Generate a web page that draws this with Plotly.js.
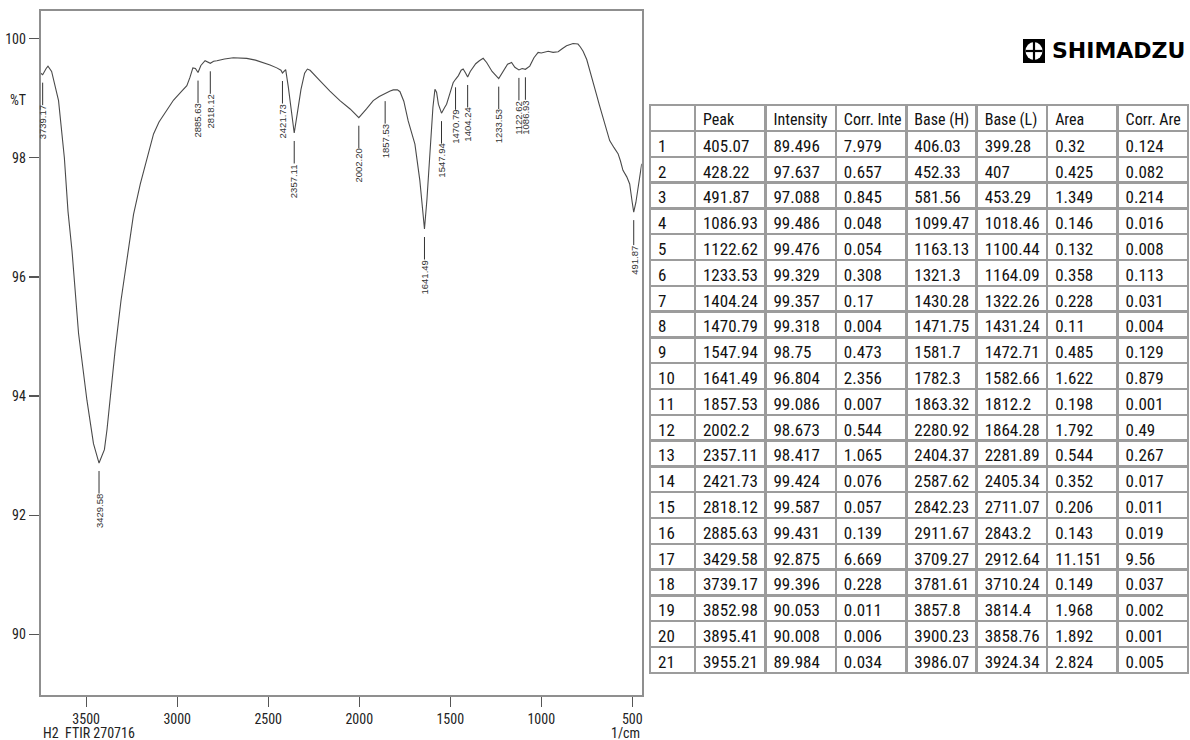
<!DOCTYPE html>
<html>
<head>
<meta charset="utf-8">
<script src="https://cdn.plot.ly/plotly-3.0.1.min.js"></script>
<style>
  html, body { margin: 0; padding: 0; background: #ffffff; }
  #chart { width: 1190px; height: 740px; }
</style>
</head>
<body>
<div id="chart"></div>
<script>
// ---- Spectrum ----
const wavenumber = [
  3750, 3739.17, 3720, 3710, 3690, 3670, 3652, 3620, 3600, 3578, 3542, 3496, 3460, 3429.58,
  3400, 3386, 3341, 3309, 3271, 3240, 3203, 3160, 3130, 3100, 3057, 3020, 2975, 2947, 2930,
  2914, 2900, 2885.63, 2870, 2847, 2818.12, 2800, 2782, 2740, 2692, 2650, 2618, 2570, 2527,
  2490, 2453, 2430, 2421.73, 2410, 2404, 2390, 2375, 2357.11, 2340, 2320, 2300, 2285, 2270,
  2240, 2215, 2161, 2106, 2050, 2002.2, 1960, 1923, 1890, 1857.53, 1830, 1813, 1790, 1776,
  1755, 1731, 1694, 1667, 1655, 1641.49, 1628, 1612, 1595, 1584, 1575, 1565, 1547.94, 1530,
  1520, 1500, 1484, 1470.79, 1455, 1440, 1429, 1415, 1404.24, 1390, 1360, 1340, 1319, 1300,
  1270, 1233.53, 1210, 1185, 1163, 1145, 1122.62, 1105, 1086.93, 1063, 1040, 1017, 1000, 985,
  962, 935, 907, 885, 861, 825, 798, 785, 770, 750, 734, 715, 697, 680, 661, 640, 624, 600,
  578, 565, 551, 530, 514, 500, 491.87, 480, 468, 448
];
const transmittance = [
  99.42, 99.396, 99.50, 99.54, 99.45, 99.20, 98.96, 98.00, 97.10, 96.44, 95.05, 93.93, 93.20, 92.875,
  93.10, 93.43, 94.77, 95.60, 96.44, 97.05, 97.56, 98.05, 98.40, 98.60, 98.79, 98.97, 99.12, 99.21, 99.35,
  99.51, 99.50, 99.431, 99.55, 99.63, 99.587, 99.62, 99.63, 99.66, 99.68, 99.68, 99.67, 99.64, 99.60,
  99.56, 99.51, 99.47, 99.424, 99.47, 99.48, 99.20, 98.80, 98.417, 98.75, 99.15, 99.42, 99.49, 99.47,
  99.38, 99.29, 99.12, 98.96, 98.82, 98.673, 98.82, 98.96, 99.03, 99.086, 99.12, 99.14, 99.14, 99.11,
  98.95, 98.62, 98.23, 97.62, 97.20, 96.804, 97.30, 98.12, 98.85, 99.15, 99.10, 98.90, 98.75, 98.85,
  98.90, 99.10, 99.26, 99.318, 99.38, 99.47, 99.49, 99.42, 99.357, 99.45, 99.58, 99.63, 99.67, 99.60,
  99.45, 99.329, 99.45, 99.57, 99.60, 99.52, 99.476, 99.50, 99.486, 99.54, 99.68, 99.77, 99.76, 99.77,
  99.79, 99.77, 99.78, 99.83, 99.88, 99.92, 99.91, 99.86, 99.79, 99.65, 99.46, 99.27, 99.07, 98.88, 98.68, 98.45, 98.29, 98.17,
  98.07, 97.95, 97.79, 97.68, 97.56, 97.25, 97.088, 97.25, 97.51, 97.90
];

// ---- Peak table ----
const peakNo    = [1,2,3,4,5,6,7,8,9,10,11,12,13,14,15,16,17,18,19,20,21];
const peakPos   = [405.07,428.22,491.87,1086.93,1122.62,1233.53,1404.24,1470.79,1547.94,1641.49,1857.53,2002.2,2357.11,2421.73,2818.12,2885.63,3429.58,3739.17,3852.98,3895.41,3955.21];
const intensity = [89.496,97.637,97.088,99.486,99.476,99.329,99.357,99.318,98.75,96.804,99.086,98.673,98.417,99.424,99.587,99.431,92.875,99.396,90.053,90.008,89.984];
const corrInt   = [7.979,0.657,0.845,0.048,0.054,0.308,0.17,0.004,0.473,2.356,0.007,0.544,1.065,0.076,0.057,0.139,6.669,0.228,0.011,0.006,0.034];
const baseH     = [406.03,452.33,581.56,1099.47,1163.13,1321.3,1430.28,1471.75,1581.7,1782.3,1863.32,2280.92,2404.37,2587.62,2842.23,2911.67,3709.27,3781.61,3857.8,3900.23,3986.07];
const baseL     = [399.28,407,453.29,1018.46,1100.44,1164.09,1322.26,1431.24,1472.71,1582.66,1812.2,1864.28,2281.89,2405.34,2711.07,2843.2,2912.64,3710.24,3814.4,3858.76,3924.34];
const area      = [0.32,0.425,1.349,0.146,0.132,0.358,0.228,0.11,0.485,1.622,0.198,1.792,0.544,0.352,0.206,0.143,11.151,0.149,1.968,1.892,2.824];
const corrArea  = [0.124,0.082,0.214,0.016,0.008,0.113,0.031,0.004,0.129,0.879,0.001,0.49,0.267,0.017,0.011,0.019,9.56,0.037,0.002,0.001,0.005];
const headers   = ['', 'Peak', 'Intensity', 'Corr. Inte', 'Base (H)', 'Base (L)', 'Area', 'Corr. Are'];

const xTicks = [3500, 3000, 2500, 2000, 1500, 1000, 500];
const yTicks = [90, 92, 94, 96, 98, 100];
const xRange = [3750, 448];
const yRange = [88.98, 100.47];

// ---- layout helpers (pixel -> paper) ----
const W = 1190, H = 740;
const px = v => v / W;
const py = v => 1 - v / H;

const narrow = 'Roboto Condensed, Liberation Sans Narrow, DejaVu Sans Condensed, Liberation Sans, sans-serif';
const nb = s => s.replace(/ /g, '\u00a0');   // keep headers on one line

const spectrum = {
  type: 'scatter', mode: 'lines',
  x: wavenumber, y: transmittance,
  line: { color: '#4a4a4a', width: 1.1 },
  xaxis: 'x', yaxis: 'y', hoverinfo: 'skip', showlegend: false
};

const fmt = v => String(v);
const table = {
  type: 'table',
  domain: { x: [px(650), px(1188)], y: [0, py(105)] },
  columnwidth: [45, 70.5, 70.5, 70.5, 70.5, 70.5, 70.5, 70.5],
  header: {
    values: headers.map(nb),
    align: 'left',
    height: 26,
    line: { color: '#9c9c9c', width: 2.5 },
    fill: { color: '#ffffff' },
    font: { family: narrow, size: 16, color: '#111111' }
  },
  cells: {
    values: [peakNo.map(fmt), peakPos.map(fmt), intensity.map(fmt), corrInt.map(fmt),
             baseH.map(fmt), baseL.map(fmt), area.map(fmt), corrArea.map(fmt)],
    align: 'left',
    height: 25.8,
    line: { color: '#9c9c9c', width: 2.5 },
    fill: { color: '#ffffff' },
    font: { family: narrow, size: 17, color: '#111111' }
  }
};

// peak labels, only peaks inside the plotted range
const annotations = [];
peakPos.forEach((p, i) => {
  if (p <= xRange[0] && p >= xRange[1]) {
    annotations.push({
      xref: 'x', yref: 'y', x: p, y: intensity[i],
      text: p.toFixed(2), textangle: -90,
      showarrow: true, arrowhead: 0, arrowwidth: 1, arrowcolor: '#333333',
      ax: 0, ay: 48, standoff: 8, borderpad: 0,
      font: { family: 'Liberation Sans, Arial, sans-serif', size: 9.5, color: '#333333' }
    });
  }
});
annotations.push(
  { xref: 'paper', yref: 'paper', x: px(18), y: py(100), text: '%T', showarrow: false,
    xanchor: 'center', yanchor: 'middle', font: { family: narrow, size: 14, color: '#222' } },
  { xref: 'paper', yref: 'paper', x: px(40.7), y: py(733), text: 'H2\u00a0 FTIR 270716', showarrow: false,
    xanchor: 'left', yanchor: 'middle', font: { family: narrow, size: 14, color: '#222' } },
  { xref: 'paper', yref: 'paper', x: px(642), y: py(733), text: '1/cm', showarrow: false,
    xanchor: 'right', yanchor: 'middle', font: { family: narrow, size: 14, color: '#222' } },
  { xref: 'paper', yref: 'paper', x: px(1050), y: py(51), text: '<b>SHIMADZU</b>', showarrow: false,
    xanchor: 'left', yanchor: 'middle', font: { family: 'DejaVu Sans, sans-serif', size: 22, color: '#000' } }
);

const shapes = [
  { type: 'rect', xref: 'paper', yref: 'paper', x0: px(1023), x1: px(1045), y0: py(39), y1: py(63),
    fillcolor: '#000', line: { width: 0 } },
  { type: 'circle', xref: 'paper', yref: 'paper', x0: px(1025.5), x1: px(1042.5), y0: py(42), y1: py(60),
    fillcolor: '#fff', line: { width: 0 } },
  { type: 'line', xref: 'paper', yref: 'paper', x0: px(1034), x1: px(1034), y0: py(42), y1: py(60),
    line: { color: '#000', width: 2.2 } },
  { type: 'line', xref: 'paper', yref: 'paper', x0: px(1025.5), x1: px(1042.5), y0: py(51), y1: py(51),
    line: { color: '#000', width: 2.2 } }
];

const layout = {
  width: W, height: H,
  margin: { l: 0, r: 0, t: 0, b: 0 },
  paper_bgcolor: '#ffffff', plot_bgcolor: '#ffffff',
  showlegend: false,
  xaxis: {
    domain: [px(40.7), px(641.7)], range: xRange, autorange: false,
    tickmode: 'array', tickvals: xTicks, ticktext: xTicks.map(String),
    ticks: 'outside', ticklen: 10, tickwidth: 1.2, tickcolor: '#555',
    showgrid: false, zeroline: false, showline: true, linecolor: '#8f8f8f', linewidth: 2, mirror: true,
    tickfont: { family: narrow, size: 14, color: '#222' }
  },
  yaxis: {
    domain: [py(695), py(10.7)], range: yRange, autorange: false,
    tickmode: 'array', tickvals: yTicks, ticktext: yTicks.map(String),
    ticks: 'outside', ticklen: 10, tickwidth: 1.2, tickcolor: '#555',
    showgrid: false, zeroline: false, showline: true, linecolor: '#8f8f8f', linewidth: 2, mirror: true,
    tickfont: { family: narrow, size: 14, color: '#222' }
  },
  annotations: annotations,
  shapes: shapes
};

Plotly.newPlot('chart', [spectrum, table], layout, { displayModeBar: false, staticPlot: true });
</script>
</body>
</html>
